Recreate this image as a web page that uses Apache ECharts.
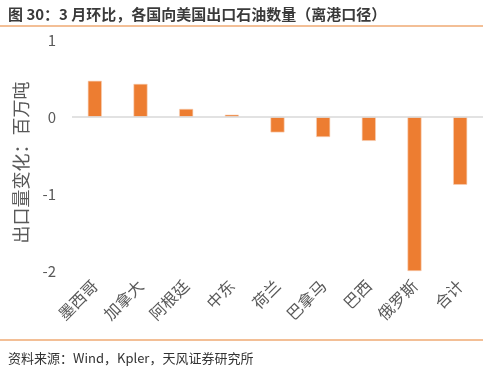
<!DOCTYPE html>
<html><head><meta charset="utf-8">
<script src="https://cdn.jsdelivr.net/npm/echarts@6/dist/echarts.min.js"></script>
<style>html,body{margin:0;padding:0;background:#fff}#c{width:483px;height:368px}</style>
</head><body><div id="c"></div>
<script>
const categories = ['墨西哥','加拿大','阿根廷','中东','荷兰','巴拿马','巴西','俄罗斯','合计'];
const values = [0.47, 0.43, 0.105, 0.03, -0.2, -0.26, -0.31, -2.0, -0.88];
const yTicks = [-2, -1, 0, 1];
const titleText = '图 30：3 月环比，各国向美国出口石油数量（离港口径）';
const sourceText = '资料来源：Wind，Kpler，天风证券研究所';
const yName = '出口量变化：百万吨';

const FONT = '"Noto Sans CJK SC", "Noto Sans", sans-serif';
const chart = echarts.init(document.getElementById('c'), null, {renderer:'canvas'});
chart.setOption({
  animation: false,
  backgroundColor: '#fff',
  title: [
    {text: titleText, left: 3, top: 2, textStyle:{fontFamily: FONT, fontSize: 15, fontWeight: 'bold', color: '#3a3a3a'}},
    {text: sourceText, left: 3, top: 347, textStyle:{fontFamily: FONT, fontSize: 13, fontWeight: 'normal', color: '#333'}}
  ],
  graphic: [
    {type:'line', shape:{x1:0, y1:26, x2:483, y2:26}, style:{stroke:'#E8802F', lineWidth:1.2}},
    {type:'line', shape:{x1:0, y1:340, x2:483, y2:340}, style:{stroke:'#E8802F', lineWidth:1.2}}
  ],
  grid: {left: 72, top: 40, width: 412, height: 231},
  xAxis: {
    type: 'category', data: categories,
    axisLine: {show: false}, axisTick: {show: false},
    axisLabel: {rotate: 45, fontSize: 16, color: '#595959', fontFamily: FONT, margin: 12, interval: 0}
  },
  yAxis: {
    type: 'value', min: yTicks[0], max: yTicks[yTicks.length-1], interval: 1,
    axisLine: {show: false}, axisTick: {show: false}, splitLine: {show: false},
    axisLabel: {fontSize: 15, color: '#595959', fontFamily: FONT, margin: 16},
    name: yName, nameLocation: 'middle', nameGap: 42, nameRotate: 90,
    nameTextStyle: {fontSize: 18, color: '#595959', fontFamily: FONT, padding: [0, 14, 0, 0]}
  },
  series: [{
    type: 'bar', data: values, barWidth: 14,
    itemStyle: {color: '#ED7D31', borderColor: '#F8D2B8', borderWidth: 0.6},
    markLine: {
      silent: true, symbol: 'none', label: {show: false},
      lineStyle: {color: '#D9D9D9', width: 1.5, type: 'solid'},
      data: [{yAxis: 0}]
    }
  }]
});
</script></body></html>
